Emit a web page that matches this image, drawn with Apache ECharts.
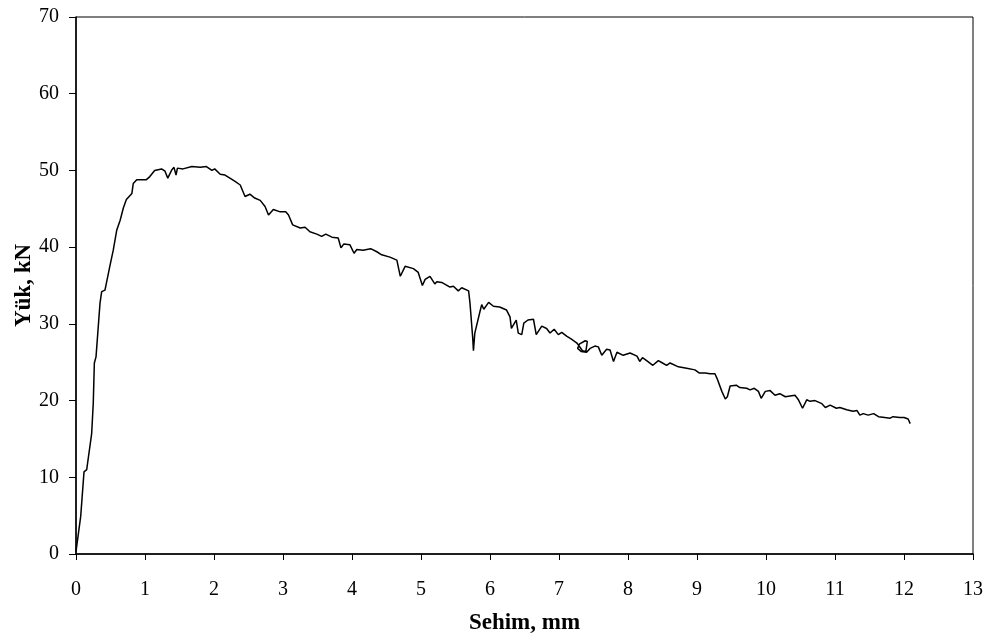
<!DOCTYPE html>
<html>
<head>
<meta charset="utf-8">
<script src="https://cdn.jsdelivr.net/npm/echarts@6/dist/echarts.min.js"></script>
<style>
  html, body { margin: 0; padding: 0; background: #fff; }
  #main { width: 996px; height: 644px; }
</style>
</head>
<body>
<div id="main"></div>
<script>
// sehim (mm) ve yük (kN)
var sehim = [
  0, 0.068, 0.116, 0.155, 0.227, 0.25, 0.266, 0.29, 0.348, 0.372, 0.42, 0.49, 0.54, 0.59, 0.64, 0.686, 0.73, 0.81, 0.83, 0.88,
  1.02, 1.07, 1.14, 1.24, 1.29, 1.33, 1.39, 1.42, 1.45, 1.47, 1.55, 1.68, 1.80, 1.89, 1.97, 2.01, 2.09, 2.16, 2.23, 2.30,
  2.38, 2.45, 2.52, 2.59, 2.67, 2.74, 2.79, 2.86, 2.96, 3.04, 3.08, 3.14, 3.25, 3.32, 3.39, 3.49, 3.56, 3.62, 3.71, 3.80,
  3.84, 3.88, 3.97, 4.03, 4.07, 4.16, 4.27, 4.36, 4.43, 4.55, 4.65, 4.70, 4.77, 4.89, 4.96, 5.02, 5.06, 5.13, 5.20, 5.23,
  5.30, 5.42, 5.47, 5.54, 5.59, 5.69, 5.71, 5.75, 5.76, 5.78, 5.86, 5.88, 5.91, 5.98, 6.05, 6.14, 6.24, 6.29, 6.31, 6.38,
  6.41, 6.46, 6.49, 6.55, 6.63, 6.67, 6.75, 6.82, 6.87, 6.93, 6.99, 7.04, 7.11, 7.18, 7.26, 7.34, 7.39, 7.41, 7.38, 7.30,
  7.27, 7.32, 7.40, 7.45, 7.52, 7.57, 7.62, 7.69, 7.74, 7.79, 7.84, 7.93, 8.03, 8.13, 8.17, 8.21, 8.27, 8.36, 8.44, 8.50,
  8.56, 8.61, 8.73, 8.85, 8.97, 9.03, 9.12, 9.19, 9.26, 9.29, 9.36, 9.41, 9.44, 9.48, 9.57, 9.62, 9.72, 9.77, 9.83, 9.89,
  9.93, 9.99, 10.06, 10.13, 10.20, 10.28, 10.35, 10.42, 10.47, 10.53, 10.59, 10.64, 10.71, 10.81, 10.86, 10.93, 11.02, 11.07, 11.17, 11.26,
  11.32, 11.36, 11.41, 11.48, 11.56, 11.63, 11.72, 11.80, 11.84, 11.94, 12.00, 12.06, 12.09
];
var yuk = [
  0.3, 4.9, 10.7, 11.0, 15.7, 19.6, 24.9, 25.7, 32.7, 34.2, 34.4, 37.5, 39.6, 42.2, 43.5, 45.1, 46.2, 47.0, 48.3, 48.8,
  48.8, 49.2, 50.0, 50.2, 49.9, 49.0, 50.1, 50.4, 49.4, 50.3, 50.2, 50.5, 50.4, 50.5, 50.0, 50.2, 49.5, 49.4, 49.0, 48.6,
  48.1, 46.6, 46.9, 46.4, 46.1, 45.3, 44.2, 44.9, 44.6, 44.6, 44.2, 42.9, 42.5, 42.6, 42.0, 41.7, 41.4, 41.7, 41.3, 41.2,
  39.9, 40.4, 40.3, 39.2, 39.7, 39.6, 39.8, 39.4, 39.0, 38.7, 38.3, 36.2, 37.5, 37.2, 36.7, 35.0, 35.8, 36.2, 35.2, 35.5,
  35.4, 34.8, 34.9, 34.3, 34.7, 34.3, 32.7, 28.1, 26.5, 28.8, 31.8, 32.5, 31.9, 32.8, 32.3, 32.2, 31.8, 30.9, 29.4, 30.5,
  28.8, 28.6, 30.1, 30.5, 30.6, 28.6, 29.7, 29.4, 28.8, 29.3, 28.6, 28.9, 28.4, 28.0, 27.5, 26.5, 26.4, 27.7, 27.8, 27.4,
  26.8, 26.4, 26.3, 26.8, 27.1, 27.0, 25.9, 26.7, 26.6, 25.1, 26.3, 25.9, 26.2, 25.8, 25.1, 25.6, 25.2, 24.6, 25.2, 24.9,
  24.6, 24.9, 24.4, 24.2, 24.0, 23.6, 23.6, 23.5, 23.5, 22.9, 21.2, 20.2, 20.5, 21.9, 22.0, 21.7, 21.6, 21.4, 21.6, 21.2,
  20.3, 21.2, 21.3, 20.7, 20.9, 20.5, 20.6, 20.7, 20.1, 19.0, 20.1, 19.9, 20.0, 19.6, 19.1, 19.4, 19.0, 19.1, 18.8, 18.6,
  18.7, 18.1, 18.3, 18.1, 18.3, 17.9, 17.8, 17.7, 17.9, 17.8, 17.8, 17.6, 17.0
];

var chartDom = document.getElementById('main');
var myChart = echarts.init(chartDom);

var points = sehim.map(function (x, i) { return [x, yuk[i]]; });
var fontFam = '"Liberation Serif", "Times New Roman", serif';

var option = {
  animation: false,
  backgroundColor: '#fff',
  grid: {
    left: 76,
    right: 23,
    top: 17,
    bottom: 90,
    outerBoundsMode: 'none',
    show: true,
    borderColor: '#000',
    borderWidth: 1
  },
  xAxis: {
    type: 'value',
    min: 0,
    max: 13,
    interval: 1,
    name: 'Sehim, mm',
    nameLocation: 'middle',
    nameGap: 58,
    nameMoveOverlap: false,
    nameTextStyle: { color: '#000', fontSize: 23, fontWeight: 'bold', fontFamily: fontFam },
    axisLine: { show: true, onZero: false, lineStyle: { color: '#000', width: 1.5 } },
    axisTick: { show: true, inside: false, length: 6, lineStyle: { color: '#000', width: 1 } },
    axisLabel: { color: '#000', fontSize: 20, fontFamily: fontFam, margin: 26 },
    splitLine: { show: false }
  },
  yAxis: {
    type: 'value',
    min: 0,
    max: 70,
    interval: 10,
    name: 'Yük, kN',
    nameLocation: 'middle',
    nameGap: 40,
    nameRotate: 90,
    nameMoveOverlap: false,
    nameTextStyle: { color: '#000', fontSize: 23, fontWeight: 'bold', fontFamily: fontFam },
    axisLine: { show: true, onZero: false, lineStyle: { color: '#000', width: 1.5 } },
    axisTick: { show: true, inside: false, length: 7, lineStyle: { color: '#000', width: 1 } },
    axisLabel: { color: '#000', fontSize: 20, fontFamily: fontFam, margin: 17 },
    splitLine: { show: false }
  },
  series: [
    {
      name: 'Yük',
      type: 'line',
      data: points,
      showSymbol: false,
      symbol: 'none',
      smooth: false,
      lineStyle: { color: '#000', width: 1.5 }
    }
  ]
};
option && myChart.setOption(option);
</script>
</body>
</html>
